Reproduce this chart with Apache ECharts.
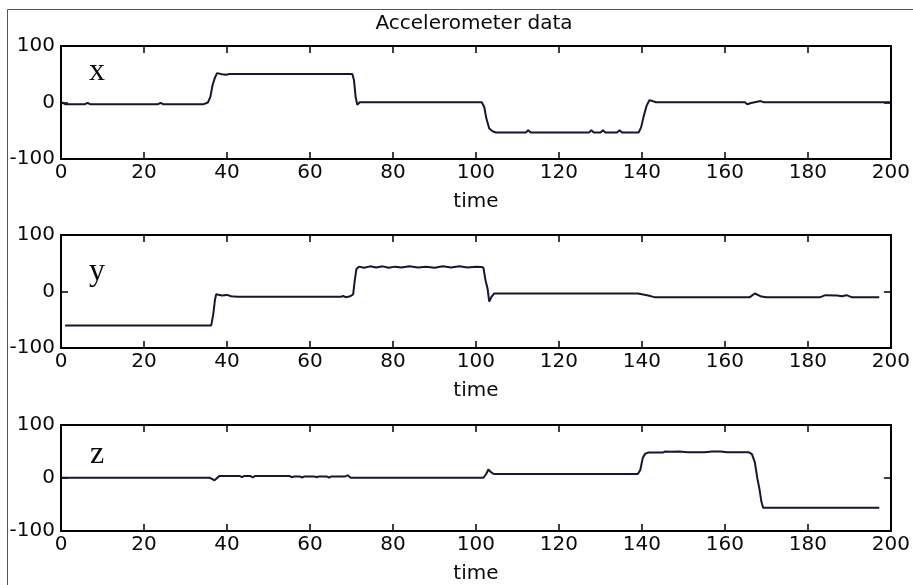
<!DOCTYPE html>
<html>
<head>
<meta charset="utf-8">
<title>Accelerometer data</title>
<script src="https://cdn.jsdelivr.net/npm/echarts@6/dist/echarts.min.js"></script>
<style>
  html, body { margin: 0; padding: 0; background: #fff; }
  #Chart { width: 913px; height: 585px; }
</style>
</head>
<body>
<div id="Chart"></div>
<script>
// Axis ranges and panel names
var timeRange = [0, 200];
var timeStep = 20;
var accRange = [-100, 100];
var accStep = 100;
var panelNames = ['x', 'y', 'z'];
var chartTitle = 'Accelerometer data';
var axisName = 'time';

// x channel (time, value)
var xTime = [0, 1, 5.8, 6.4, 7, 23.4, 24, 24.6, 34.4, 35.4, 36, 36.5, 37.1, 37.6, 38.8, 39.8, 40.6,
  70.2, 70.6, 71, 71.4, 72, 101.4, 102, 102.5, 103.2, 104, 104.8, 112, 112.6, 113.2, 127.3, 127.8,
  128.4, 130, 130.6, 131.2, 134, 134.6, 135.2, 139.2, 139.8, 140.4, 141.1, 141.8, 142.6, 143.4,
  164.8, 165.4, 166.3, 168.6, 169.4, 199.8];
var xVal = [1, -3, -3, -0.5, -3, -3, -0.5, -3, -3, 0, 10, 30, 44, 52, 50, 49, 50.5,
  50.5, 40, 10, -4, 0.5, 0.5, -8, -28, -46, -51, -53, -53, -49, -53, -53, -49,
  -53, -53, -49, -53, -53, -49, -53, -53, -44, -25, -6, 4, 2.5, 0.5,
  0.5, -3, -1, 2.5, 0.5, 0.5];

// y channel
var yTime = [1, 36.2, 36.7, 37.1, 37.4, 37.8, 38.8, 40, 41, 42.5, 67.5, 68, 68.6, 69.2, 69.8, 70.4,
  70.8, 71.2, 71.8, 73, 74.5, 76, 77.5, 79, 80.5, 82, 84, 86, 88, 90, 92, 94, 96, 98, 100, 101.3,
  101.8, 102.3, 102.8, 103.2, 103.7, 104.4, 139, 140, 141.5, 143, 166, 167.2, 168.8, 170, 183,
  184.2, 187, 188.2, 189.3, 190.5, 197.2];
var yVal = [-60, -60, -40, -15, -5, -3, -7, -6, -8.5, -9.5, -9.5, -8, -10, -9.5, -8, -5,
  20, 40, 44, 42, 44.5, 42.5, 44.5, 42, 44, 42.5, 44.5, 42.5, 44, 42, 44.5, 42.5, 44.5, 42.5, 44, 43.5,
  42, 20, 5, -18, -10, -3.5, -3.5, -5, -7, -10, -10, -3.5, -9, -10, -10,
  -6.5, -7, -8.5, -6.5, -10, -10];

// z channel
var zTime = [0, 35.8, 36.5, 37, 37.6, 38.2, 43, 43.6, 44.2, 45.6, 46.2, 46.8, 55, 55.6, 56.2, 57.5,
  58.1, 58.7, 61, 61.6, 62.2, 64, 64.6, 65.2, 68.5, 69.1, 69.8, 101.8, 102.5, 103, 103.6, 104.3,
  139, 139.6, 140.2, 140.8, 141.6, 145, 145.6, 147, 149, 151, 155, 157, 159, 160.5, 165.8, 166.5,
  167.2, 167.8, 168.3, 168.8, 169.2, 197.2];
var zVal = [0.5, 0.5, -2, -4.5, 0, 4, 4, 1.5, 4, 4, 1, 4, 4, 1.5, 3, 3,
  1, 3, 3, 1.5, 3, 3, 0.5, 3, 3, 5, 0.5, 0.5, 8, 16, 11, 7.5,
  7.5, 15, 38, 46, 48, 48, 50, 49.5, 50, 48.5, 48.5, 50, 50, 48.5, 48.5, 45,
  30, 0, -20, -45, -56, -56];

var channels = [[xTime, xVal], [yTime, yVal], [zTime, zVal]];

// Layout of the three panels
var gridTops = [46, 235, 425];
var gridLeft = 61;
var gridWidth = 833;
var gridHeight = 113;

var textFont = 'DejaVu Sans';
var textColor = '#0a0a0a';
var lineColor = '#161630';

function zip(t, v) {
  var out = [];
  for (var i = 0; i < t.length; i++) out.push([t[i], v[i]]);
  return out;
}

function tickOpts() {
  return { show: true, inside: true, length: 7, lineStyle: { color: '#000', width: 1.5 } };
}

// box edges are drawn by the four axis lines
function lineOpts() {
  return { show: true, onZero: false, lineStyle: { color: '#000', width: 2 } };
}

function timeAxis(i, isTop) {
  return {
    type: 'value', gridIndex: i, position: isTop ? 'top' : 'bottom',
    min: timeRange[0], max: timeRange[1], interval: timeStep,
    name: isTop ? '' : axisName,
    nameLocation: 'middle', nameGap: 33,
    nameTextStyle: { fontFamily: textFont, fontSize: 20, color: textColor },
    axisLine: lineOpts(),
    axisTick: tickOpts(),
    axisLabel: { show: !isTop, fontFamily: textFont, fontSize: 20, color: textColor, margin: 4 },
    splitLine: { show: false }
  };
}

function accAxis(i, isRight) {
  return {
    type: 'value', gridIndex: i, position: isRight ? 'right' : 'left',
    min: accRange[0], max: accRange[1], interval: accStep,
    axisLine: lineOpts(),
    axisTick: tickOpts(),
    axisLabel: { show: !isRight, fontFamily: textFont, fontSize: 20, color: textColor, margin: 6 },
    splitLine: { show: false }
  };
}

function buildOption() {
  var grids = [], xAxes = [], yAxes = [], series = [];
  for (var i = 0; i < 3; i++) {
    grids.push({ left: gridLeft, top: gridTops[i], width: gridWidth, height: gridHeight });
    xAxes.push(timeAxis(i, false), timeAxis(i, true));
    yAxes.push(accAxis(i, false), accAxis(i, true));
    series.push({
      type: 'line', name: panelNames[i],
      xAxisIndex: 2 * i, yAxisIndex: 2 * i,
      data: zip(channels[i][0], channels[i][1]),
      symbol: 'none', showSymbol: false,
      lineStyle: { color: lineColor, width: 2 },
      z: 3
    });
  }

  // Panel letters, title and outer frame (top and left edges only)
  var letterY = [72, 271.5, 454.5];
  var graphics = [{
    type: 'text', x: 474, y: 24, z: 10,
    style: { text: chartTitle, font: '20px "DejaVu Sans"', fill: textColor, align: 'center', verticalAlign: 'middle' }
  }, {
    type: 'polyline', z: 20, silent: true,
    shape: { points: [[7.5, 600], [7.5, 9.5], [920, 9.5]] },
    style: { fill: null, stroke: '#555', lineWidth: 1 }
  }];
  for (var k = 0; k < 3; k++) {
    graphics.push({
      type: 'text', x: 97, y: letterY[k], z: 10,
      style: { text: panelNames[k], font: '32px "Liberation Serif"', fill: textColor, align: 'center', verticalAlign: 'middle' }
    });
  }

  return {
    backgroundColor: '#fff',
    animation: false,
    grid: grids,
    xAxis: xAxes,
    yAxis: yAxes,
    series: series,
    graphic: graphics
  };
}

var accChart = echarts.init(document.getElementById('Chart'), null, { renderer: 'canvas' });
accChart.setOption(buildOption());
</script>
</body>
</html>
